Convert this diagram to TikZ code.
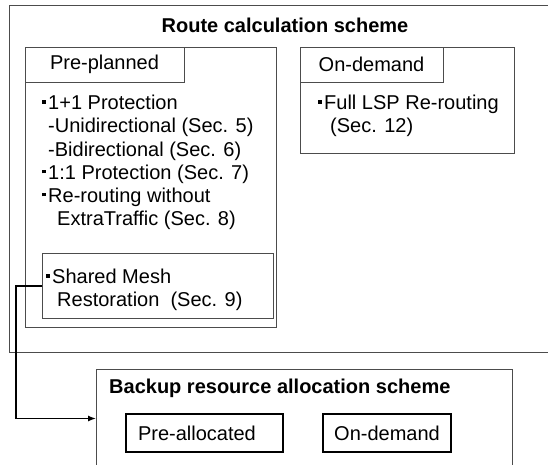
\documentclass[tikz,border=0pt]{standalone}
\usepackage{fontspec}
\setmainfont{Liberation Sans}
\usetikzlibrary{arrows.meta}
\tikzset{
    box/.style={draw=black!70,line width=1pt,inner sep=0pt,anchor=north west,
      font=\fontsize{20}{23.2}\selectfont},
    dbox/.style={box,draw=black,line width=1.3pt},
    txt/.style={anchor=north west,align=left,inner sep=0pt,
      font=\fontsize{20}{23.2}\selectfont},
    heading/.style={inner sep=0pt,font=\bfseries\fontsize{20}{24}\selectfont},
    conn/.style={draw=black,line width=1.3pt,-{Latex[length=8pt,width=6pt]}},
  }
\newcommand{\sqb}{\rule[0.3em]{0.17em}{0.17em}\hspace{0.13em}}
\begin{document}
\begin{tikzpicture}[x=1pt,y=-1pt]
  \useasboundingbox (0,0) rectangle (548,464);
  \clip (0,0) rectangle (548,464);
  %ROUTE CALCULATION
  \node[box,minimum width=560pt,minimum height=347pt] (route) at (9,5) {};
  \node[heading] (routetitle) at (285,25) {Route calculation scheme};
  %pre-planned
  \node[box,minimum width=251pt,minimum height=280pt] (pre) at (25,47) {};
  \node[box,minimum width=159pt,minimum height=35pt,anchor=center] (prehead) at (104.5,64.5) {Pre-planned};
  \node[txt] (prelist) at (42,95) {\sqb 1+1 Protection\\
    \hspace*{0.3em}-Unidirectional (Sec. 5)\\
    \hspace*{0.3em}-Bidirectional (Sec. 6)\\
    \sqb 1:1 Protection (Sec. 7)\\
    \sqb Re-routing without\\
    \hspace*{0.75em}ExtraTraffic (Sec. 8)};
  \node[box,minimum width=231pt,minimum height=65pt] (shared) at (42,253) {};
  \node[txt] (sharedtxt) at (46,269) {\sqb Shared Mesh\\
    \hspace*{0.55em}Restoration\ \ (Sec. 9)};
  %on-demand
  \node[box,minimum width=214pt,minimum height=106pt] (ond) at (300,47) {};
  \node[box,minimum width=143pt,minimum height=35pt,anchor=center] (ondhead) at (371.5,64.5) {On-demand};
  \node[txt] (ondtxt) at (318,95) {\sqb Full LSP Re-routing\\
    \hspace*{0.6em}(Sec. 12)};
  %BACKUP RESOURCE ALLOCATION
  \node[box,minimum width=416pt,minimum height=98pt] (backup) at (96,369) {};
  \node[heading,anchor=west] (backuptitle) at (109,388) {Backup resource allocation scheme};
  \node[dbox,text width=133pt,inner xsep=12pt,align=left,minimum height=38pt,anchor=center] (prealloc) at (204.5,433) {Pre-allocated};
  \node[dbox,minimum width=128pt,minimum height=38pt,anchor=center] (ondalloc) at (387,433) {On-demand};
  %arrow
  \draw[conn] (shared.west) -- ++(-26,0) |- (backup.west);
\end{tikzpicture}
\end{document}
